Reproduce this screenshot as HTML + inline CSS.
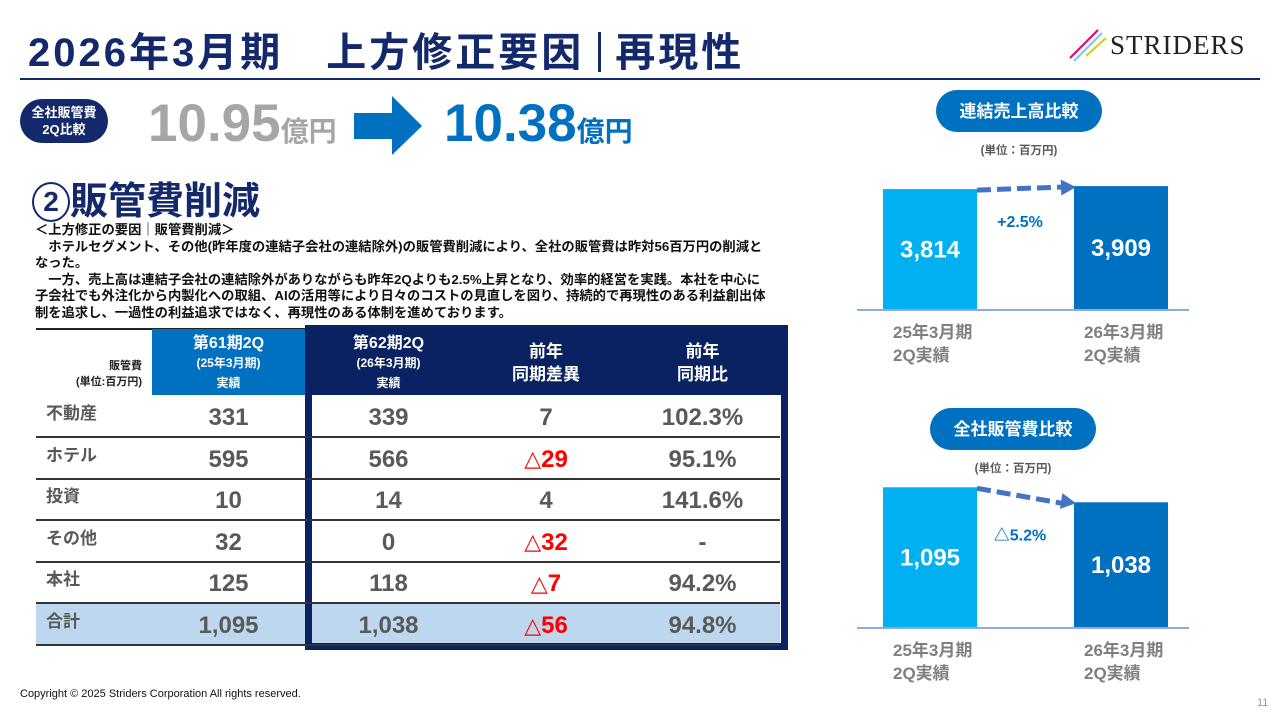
<!DOCTYPE html>
<html><head><meta charset="utf-8">
<style>
*{margin:0;padding:0;box-sizing:border-box}
body{width:1280px;height:720px;background:#fff;position:relative;overflow:hidden;font-family:"Liberation Sans","Noto Sans CJK JP",sans-serif;font-weight:bold}
.a{position:absolute}
.pill{position:absolute;border-radius:22px;color:#fff;display:flex;align-items:center;justify-content:center;text-align:center}
.cell{position:absolute;display:flex;align-items:center;justify-content:center;color:#595959;font-size:24px}
.tri{font-family:"DejaVu Sans",sans-serif;font-size:22px}
</style></head><body>
<div class="a" style="left:28px;top:20px;font-size:40px;color:#13296b;letter-spacing:3px;white-space:nowrap">2026年3月期　上方修正要因<span style="display:inline-block;width:3px;height:40px;background:#13296b;margin:0 14px;vertical-align:-6px"></span>再現性</div>
<div class="a" style="left:20px;top:78px;width:1240px;height:2px;background:#13296b"></div>
<div class="a" style="left:1068px;top:28px;width:190px;height:36px">
<svg width="40" height="36" style="position:absolute;left:0;top:0"><line x1="2" y1="30" x2="30" y2="2" stroke="#e4006e" stroke-width="2"/><line x1="6" y1="33" x2="34" y2="5" stroke="#7cc8f0" stroke-width="2"/><line x1="18" y1="28" x2="38" y2="10" stroke="#c6d800" stroke-width="2"/></svg>
<div class="a" style="left:42px;top:2px;font-family:'Liberation Serif',serif;font-weight:normal;font-size:27px;color:#222;letter-spacing:1px">STRIDERS</div></div>

<div class="pill" style="left:20px;top:99px;width:88px;height:44px;background:#13296b;font-size:13px;line-height:17px">全社販管費<br>2Q比較</div>
<div class="a" style="left:148px;top:93px;font-size:53px;color:#a6a6a6;white-space:nowrap">10.95<span style="font-size:28px">億円</span></div>
<svg class="a" style="left:354px;top:96px" width="70" height="62"><polygon points="0,17 38,17 38,0 68,30 38,59 38,43 0,43" fill="#0070c0"/></svg>
<div class="a" style="left:444px;top:93px;font-size:53px;color:#0070c0;white-space:nowrap">10.38<span style="font-size:28px">億円</span></div>

<div class="a" style="left:32px;top:170px;font-size:38px;color:#13296b;white-space:nowrap"><span style="display:inline-block;width:38px;height:40px;border:2.5px solid #13296b;border-radius:50%;text-align:center;line-height:35px;font-size:28px;vertical-align:3px">2</span>販管費削減</div>
<div class="a" style="left:35px;top:222px;width:760px;font-size:13.3px;line-height:16.5px;color:#111;white-space:nowrap">＜上方修正の要因｜販管費削減＞<br>　ホテルセグメント、その他(昨年度の連結子会社の連結除外)の販管費削減により、全社の販管費は昨対56百万円の削減と<br>なった。<br>　一方、売上高は連結子会社の連結除外がありながらも昨年2Qよりも2.5%上昇となり、効率的経営を実践。本社を中心に<br>子会社でも外注化から内製化への取組、AIの活用等により日々のコストの見直しを図り、持続的で再現性のある利益創出体<br>制を追求し、一過性の利益追求ではなく、再現性のある体制を進めております。</div>

<div class="a" style="left:0;top:0;width:800px;height:660px">
<div class="a" style="left:36px;top:328px;width:270px;height:1.5px;background:#222"></div>
<div class="a" style="left:152px;top:329px;width:153px;height:66px;background:#0070c0"></div>
<div class="a" style="left:36px;top:604px;width:744px;height:40px;background:#bdd7ee"></div>
<div class="a" style="left:305px;top:325px;width:483px;height:325px;border:7px solid #0b2262;border-top:70px solid #0b2262"></div>
<div id="rows"></div>
<div class="a" style="left:36px;top:358px;width:106px;text-align:right;font-size:11px;line-height:16px;color:#222">販管費<br>(単位:百万円)</div>
<div class="a" style="left:152px;top:334px;width:153px;text-align:center;color:#fff;font-size:16px;line-height:19px">第61期2Q<br><span style="font-size:12px">(25年3月期)<br>実績</span></div>
<div class="a" style="left:310px;top:334px;width:157px;text-align:center;color:#fff;font-size:16px;line-height:19px">第62期2Q<br><span style="font-size:12px">(26年3月期)<br>実績</span></div>
<div class="a" style="left:467px;top:340px;width:158px;text-align:center;color:#fff;font-size:17px;line-height:23px">前年<br>同期差異</div>
<div class="a" style="left:625px;top:340px;width:155px;text-align:center;color:#fff;font-size:17px;line-height:23px">前年<br>同期比</div>
</div>

<svg class="a" id="charts" style="left:840px;top:80px" width="440" height="640"></svg>

<div class="a" style="left:20px;top:688px;font-size:11px;font-weight:normal;color:#111">Copyright © 2025 Striders Corporation All rights reserved.</div>
<div class="a" style="left:1257px;top:697px;font-size:11px;font-weight:normal;color:#999">11</div>

<script>
const rowLabels=["不動産","ホテル","投資","その他","本社","合計"];
const fy61=["331","595","10","32","125","1,095"];
const fy62=["339","566","14","0","118","1,038"];
const diffs=["7","△29","4","△32","△7","△56"];
const ratios=["102.3%","95.1%","141.6%","-","94.2%","94.8%"];
const salesCats=["25年3月期\n2Q実績","26年3月期\n2Q実績"];
const salesVals=[3814,3909];
const salesChange="+2.5%";
const sgaVals=[1095,1038];
const sgaChange="△5.2%";

const R=document.getElementById('rows');
rowLabels.forEach((lab,i)=>{
  const top=395+i*41.6;
  const line=document.createElement('div');
  line.className='a';
  
  
  line.style.cssText=`left:36px;top:${top+41}px;width:744px;height:2px;background:#333`;
  R.appendChild(line);
  const l=document.createElement('div');
  l.className='a';
  
  
  l.style.cssText=`left:46px;top:${top+4}px;font-size:17px;color:#595959`;
  l.textContent=lab;R.appendChild(l);
  const vals=[fy61[i],fy62[i],diffs[i],ratios[i]];
  const xs=[[152,153],[310,157],[467,158],[625,155]];
  vals.forEach((v,j)=>{
    const c=document.createElement('div');
    c.className='cell';
    
    
    c.style.left=xs[j][0]+'px';c.style.width=xs[j][1]+'px';
    c.style.top=(top+3)+'px';c.style.height='40px';
    if(v.startsWith('△')){c.style.color='#ff0000';c.innerHTML='<span class="tri">△</span>'+v.slice(1);}
    else c.textContent=v;
    R.appendChild(c);
  });
});

const S=document.getElementById('charts');
const NS='http://www.w3.org/2000/svg';
function el(t,a,txt){const e=document.createElementNS(NS,t);for(const k in a)e.setAttribute(k,a[k]);if(txt!=null)e.textContent=txt;S.appendChild(e);return e;}
function chart(oy,title,vals,dmin,kpx,change,dx){
  const p=el('rect',{x:dx,y:oy,width:166,height:42,rx:21,fill:'#0070c0'});
  
  
  el('text',{x:dx+83,y:oy+27,'text-anchor':'middle',fill:'#fff','font-size':17,'font-weight':'bold'},title);
  el('text',{x:dx+83,y:oy+64,'text-anchor':'middle',fill:'#595959','font-size':11.5,'font-weight':'bold'},'(単位：百万円)');
  const base=oy+220;
  const y=v=>base-(v-dmin)*kpx;
  const xs=[43,234];const cols=['#00b0f0','#0070c0'];
  const tops=[];
  vals.forEach((v,i)=>{
    const r=el('rect',{x:xs[i],y:y(v),width:94,height:base-y(v),fill:cols[i]});
    
    
    tops.push(y(v));
    el('text',{x:xs[i]+47,y:(y(v)+base)/2+8,'text-anchor':'middle',fill:'#fff','font-size':24,'font-weight':'bold'},v.toLocaleString('en-US'));
    const lines=salesCats[i].split('\n');
    lines.forEach((ln,k)=>el('text',{x:xs[i]+10,y:base+28+k*23,fill:'#7f7f7f','font-size':17,'font-weight':'bold'},ln));
  });
  const ax=el('line',{x1:17,y1:base,x2:349,y2:base,stroke:'#8faadc','stroke-width':2});
  
  
  const a=el('line',{x1:137,y1:tops[0]+1,x2:222,y2:tops[1]+1,stroke:'#4472c4','stroke-width':5,'stroke-dasharray':'14,6'});
  
  
  const ang=Math.atan2(tops[1]-tops[0],97);
  const hx=236,hy=tops[1]+1;
  const pts=[[0,0],[-15,-8],[-15,8]].map(([px,py])=>[hx+px*Math.cos(ang)-py*Math.sin(ang),hy+px*Math.sin(ang)+py*Math.cos(ang)]);
  el('polygon',{points:pts.map(q=>q.join(',')).join(' '),fill:'#4472c4'});
  el('text',{x:180,y:Math.max(tops[0],tops[1])+38,'text-anchor':'middle',fill:'#0070c0','font-size':16,'font-weight':'bold'},change);
}
chart(10,'連結売上高比較',salesVals,0,0.0317,salesChange,96);
chart(328,'全社販管費比較',sgaVals,560,0.263,sgaChange,90);
</script>
</body></html>
